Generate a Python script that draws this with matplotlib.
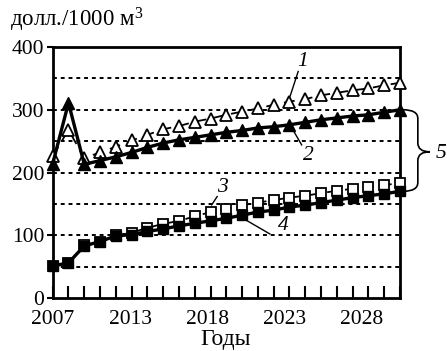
import numpy as np
import matplotlib
matplotlib.use("Agg")
import matplotlib.pyplot as plt
from matplotlib.path import Path
from matplotlib.patches import PathPatch

plt.rcParams["font.family"] = ["Liberation Serif", "DejaVu Serif"]
plt.rcParams["mathtext.fontset"] = "custom"
plt.rcParams["mathtext.rm"] = "Liberation Serif"
plt.rcParams["mathtext.it"] = "Liberation Serif:italic"

years_labels = ["2007", "2013", "2018", "2023", "2028"]
label_pos = [0.001, 4.9, 9.8, 14.7, 19.6]

# series values (23 points each)
s1 = [226, 268, 223, 232, 241, 251, 260, 269, 274, 281, 286, 292,
      297, 302, 308, 313, 317, 323, 327, 331, 334, 339, 343]
s2 = [214, 311, 213, 219, 225, 232, 240, 247, 252, 256, 260, 264,
      267, 271, 273, 276, 280, 284, 287, 290, 292, 296, 300]
s3 = [51, 56, 84, 90, 100, 104, 112, 118, 123, 130, 137, 142,
      148, 152, 156, 160, 163, 167, 171, 174, 177, 180, 183]
s4 = [51, 56, 83, 90, 99, 101, 106, 110, 115, 119, 123, 127,
      132, 137, 140, 145, 148, 152, 156, 160, 163, 166, 170]

x = np.arange(len(s1))

fig = plt.figure(figsize=(4.47, 3.51), dpi=100)
ax = fig.add_axes([52.7 / 447, 1 - 298 / 351, 347.3 / 447, 251 / 351])

# grid
for g in [50, 100, 150, 200, 250, 300, 350]:
    ax.axhline(g, color="black", lw=1.4, ls=(0, (2, 2)), zorder=1)

ax.plot(x, s1, color="black", lw=1.3, ls=(0, (6, 4)), marker="^", ms=8.5,
        mfc="white", mec="black", mew=1.3, clip_on=False, zorder=3)
ax.plot(x, s2, color="black", lw=2.4, marker="^", ms=8.5,
        mfc="black", mec="black", clip_on=False, zorder=4)
ax.plot(x, s3, color="black", lw=1.3, ls=(0, (6, 4)), marker="s", ms=7,
        mfc="white", mec="black", mew=1.3, clip_on=False, zorder=3)
ax.plot(x, s4, color="black", lw=2.4, marker="s", ms=7,
        mfc="black", mec="black", clip_on=False, zorder=4)

ax.set_xlim(0, 22)
ax.set_ylim(0, 400)
ax.set_xticks(x, labels=[""] * len(x))
ax.set_xticks(label_pos, labels=years_labels, minor=True)
ax.tick_params(axis="x", which="major", direction="in", length=9, width=1.5)
ax.tick_params(axis="x", which="minor", length=0, pad=9, labelsize=15.5)
ax.set_yticks([0, 100, 200, 300, 400])
ax.tick_params(axis="y", direction="out", length=4, width=1.5, labelsize=15.5, pad=2)
for sp in ax.spines.values():
    sp.set_linewidth(2)

# curve labels with leader lines
fs = 15.5
ax.text(15.85, 377.5, "1", style="italic", fontsize=fs, ha="center", va="center")
ax.plot([15.55, 15.03], [361, 321], color="black", lw=1)
ax.text(16.17, 226.7, "2", style="italic", fontsize=fs, ha="center", va="center")
ax.plot([15.03, 15.77], [276, 244], color="black", lw=1)
ax.text(10.72, 176, "3", style="italic", fontsize=fs, ha="center", va="center")
ax.plot([10.42, 10.07], [161.7, 148.4], color="black", lw=1)
ax.text(14.6, 115, "4", style="italic", fontsize=fs, ha="center", va="center")
ax.plot([13.76, 11.86], [102, 129.8], color="black", lw=1)

# brace for "5"
x0, xm, x1 = 22.19, 23.13, 23.89
yt, yb = 300, 170
ym = 233
verts = [(x0, yt), (xm, yt), (xm, yt - 14),
         (xm, ym + 14), (xm, ym), (x1, ym),
         (xm, ym), (xm, ym - 14),
         (xm, yb + 14), (xm, yb), (x0, yb)]
codes = [Path.MOVETO, Path.CURVE3, Path.CURVE3,
         Path.LINETO, Path.CURVE3, Path.CURVE3,
         Path.CURVE3, Path.CURVE3,
         Path.LINETO, Path.CURVE3, Path.CURVE3]
ax.add_patch(PathPatch(Path(verts, codes), fc="none", ec="black", lw=1.2,
                       clip_on=False))
ax.text(24.6, 231, "5", style="italic", fontsize=fs, ha="center", va="center")

fig.text(10 / 447, 1 - 20 / 351, r"долл./1000 м$^{3}$", fontsize=16.5,
         va="center", ha="left")
fig.text(226 / 447, 1 - 340 / 351, "Годы", fontsize=17, va="center", ha="center")

fig.savefig("out.png", dpi=100)
